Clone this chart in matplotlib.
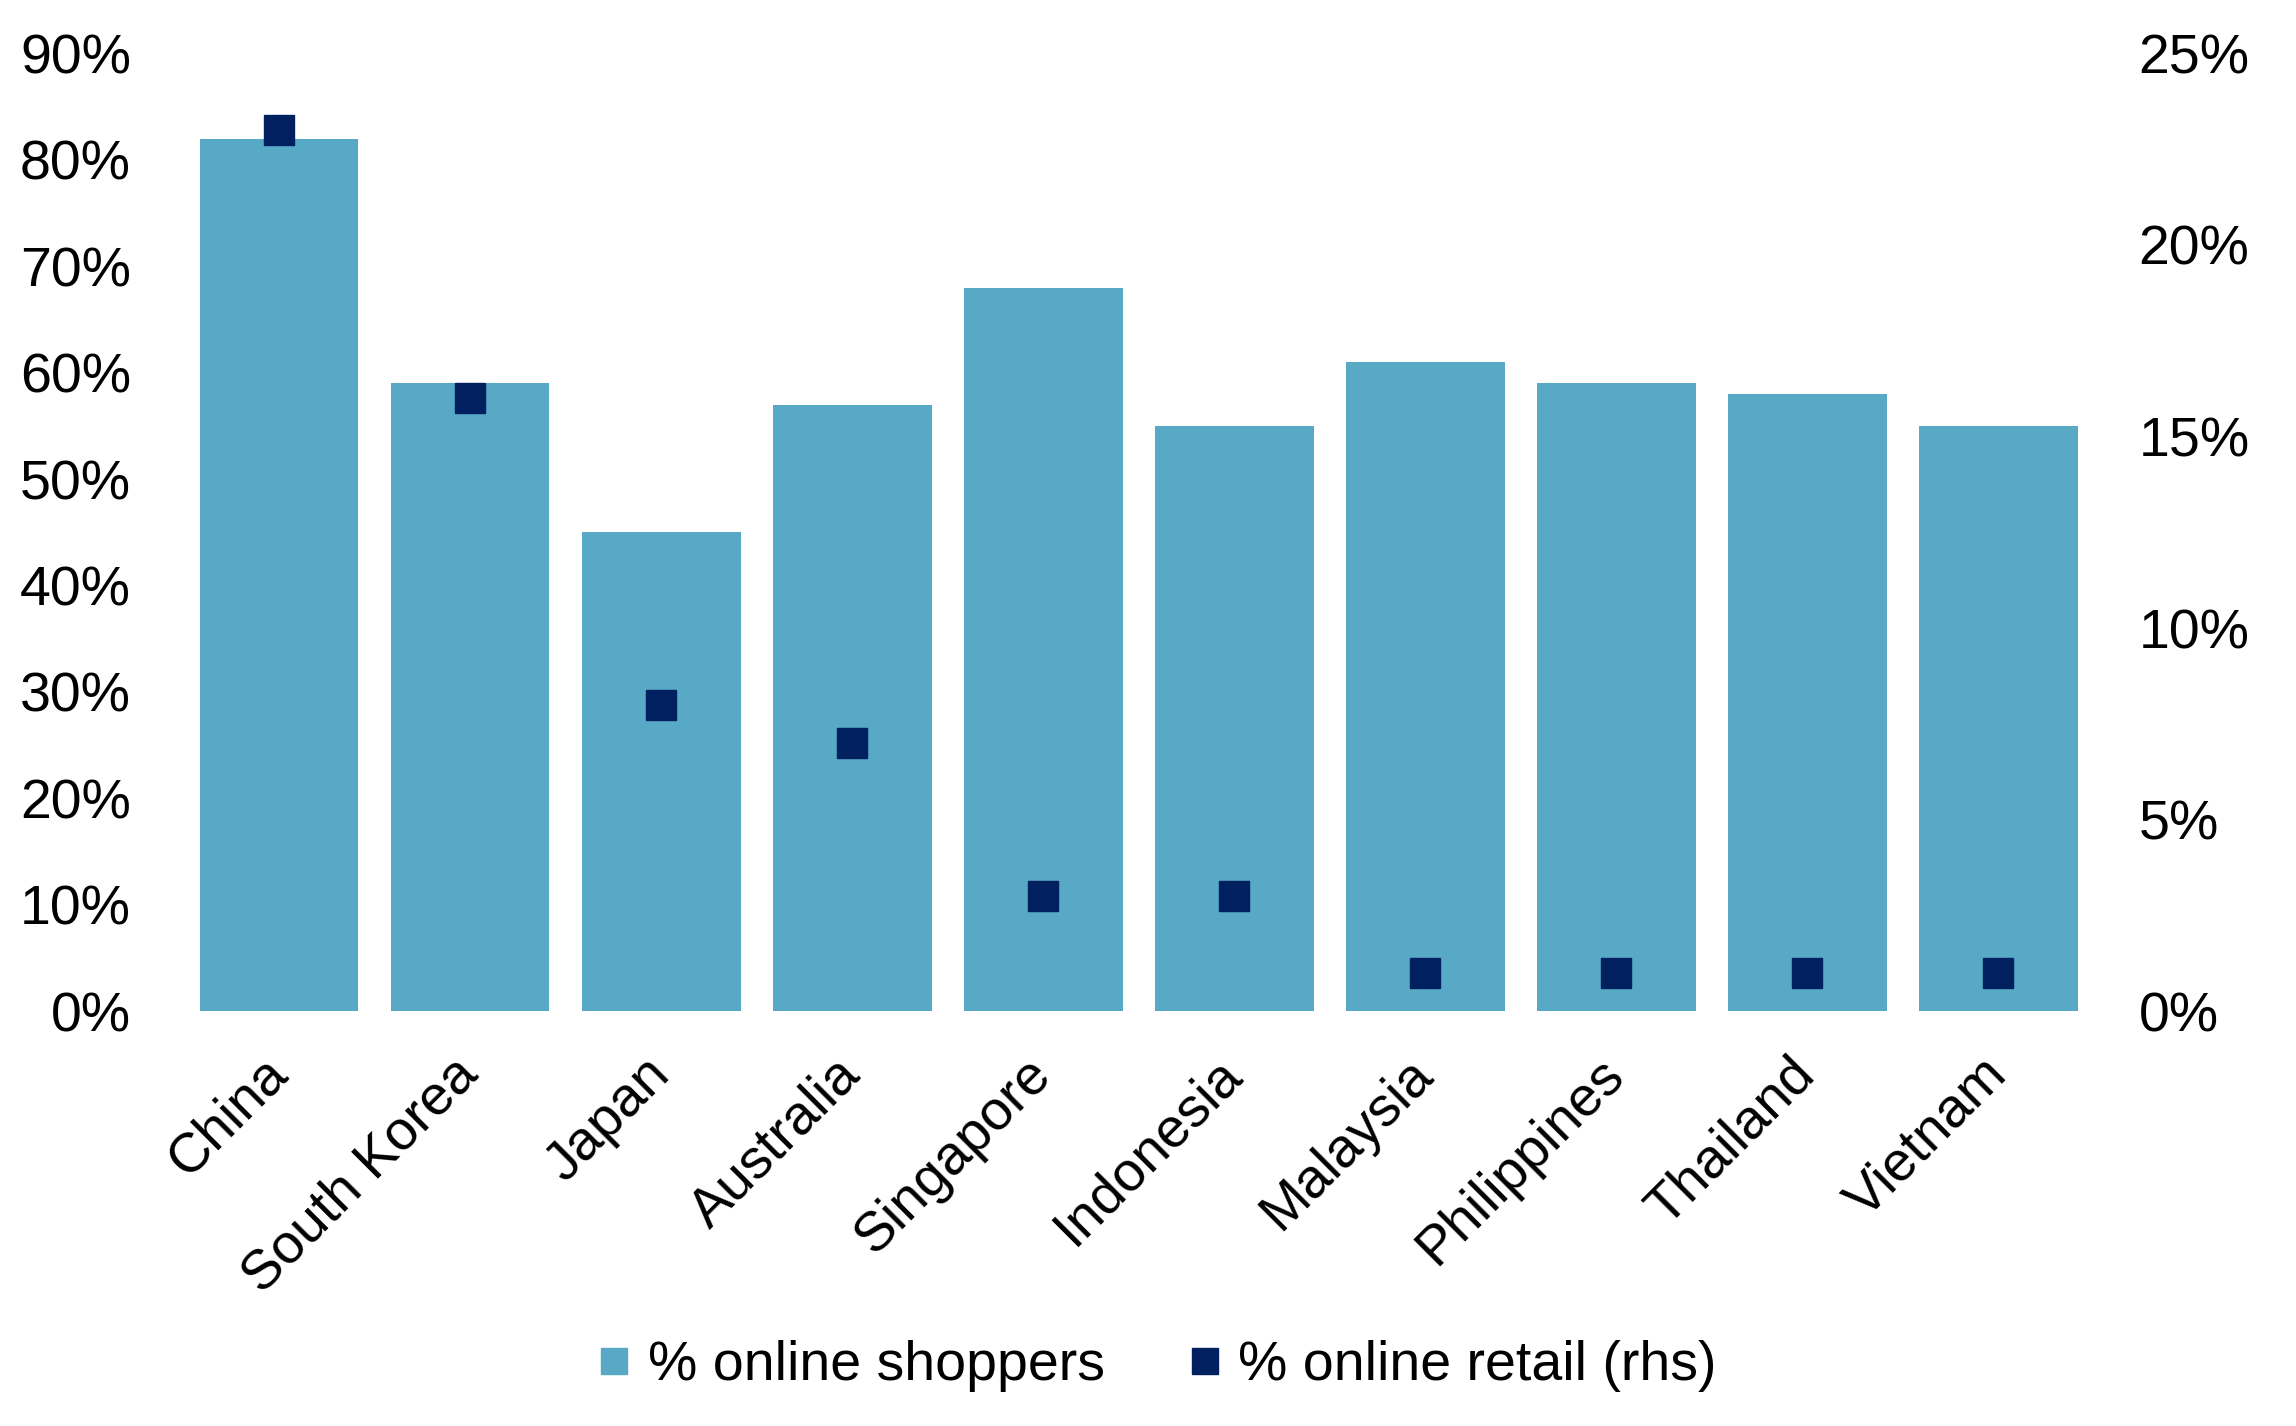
import matplotlib
matplotlib.use("Agg")
import matplotlib.pyplot as plt
from matplotlib.lines import Line2D
from matplotlib.ticker import FuncFormatter

plt.rcParams['font.family'] = ['Liberation Sans', 'DejaVu Sans']

# Data
countries = ['China', 'South Korea', 'Japan', 'Australia', 'Singapore',
             'Indonesia', 'Malaysia', 'Philippines', 'Thailand', 'Vietnam']
online_shoppers = [82, 59, 45, 57, 68, 55, 61, 59, 58, 55]   # % (lhs)
online_retail = [23, 16, 8, 7, 3, 3, 1, 1, 1, 1]              # % (rhs)

bar_color = '#57A9C6'
dot_color = '#002060'

fig = plt.figure(figsize=(22.96, 14.26), dpi=100)
ax = fig.add_axes([0.080, 0.291, 0.832, 0.6715])
ax2 = ax.twinx()

x = range(len(countries))
ax.bar(x, online_shoppers, width=0.83, color=bar_color, zorder=1)
ax2.plot(x, online_retail, linestyle='none', marker='s', markersize=21,
         color=dot_color, zorder=3)

ax.set_xlim(-0.5, len(countries) - 0.5)
ax.set_ylim(0, 90)
ax2.set_ylim(0, 25)
ax.set_yticks(range(0, 91, 10))
ax2.set_yticks(range(0, 26, 5))
pct = FuncFormatter(lambda v, p: f"{v:.0f}%")
ax.yaxis.set_major_formatter(pct)
ax2.yaxis.set_major_formatter(pct)

ax.set_xticks(list(x))
ax.set_xticklabels(countries, rotation=45, ha='right', va='center',
                   rotation_mode='anchor')
ax.tick_params(axis='x', length=0, pad=40, labelsize=40)
ax.tick_params(axis='y', length=0, pad=38, labelsize=40)
ax2.tick_params(axis='y', length=0, pad=32, labelsize=40)

for a in (ax, ax2):
    for s in a.spines.values():
        s.set_visible(False)

handles = [
    Line2D([], [], linestyle='none', marker='s', markersize=19, color=bar_color),
    Line2D([], [], linestyle='none', marker='s', markersize=19, color=dot_color),
]
fig.legend(handles, ['% online shoppers', '% online retail (rhs)'],
           loc='center', bbox_to_anchor=(0.504, 0.042), ncol=2, frameon=False,
           fontsize=40, handlelength=0.6, handletextpad=0.3, columnspacing=1.5)

fig.savefig('out.png', dpi=100)
